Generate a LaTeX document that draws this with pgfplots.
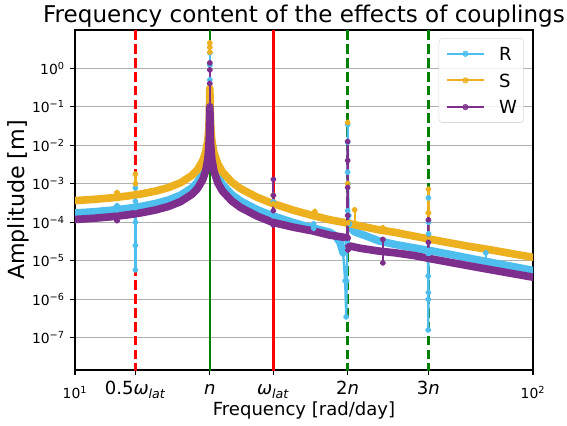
\documentclass[border=0pt]{standalone}
\usepackage{fontspec}
\setmainfont{DejaVu Sans}
\usepackage{pgfplots}
\pgfplotsset{compat=1.18}
\definecolor{cR}{HTML}{4DBEEE}
\definecolor{cS}{HTML}{EDB120}
\definecolor{cW}{HTML}{7E2F8E}
\definecolor{cG}{HTML}{008000}
\definecolor{cRed}{HTML}{FF0000}
\definecolor{gridc}{HTML}{B0B0B0}
\pgfplotsset{
  legend image code/.code={\draw[#1, line width=1.5pt] (0pt,0pt) -- (27.1pt,0pt); \fill[#1] (13.55pt,0pt) circle (2pt);},
  band/.style={line width=5.5pt, line join=round, line cap=round, forget plot},
  spike/.style={line width=1.7pt, line join=round, mark=*, mark size=1.4pt, mark options={solid}, forget plot},
}
\begin{document}
\begin{tikzpicture}
\useasboundingbox (-54pt,-39.6pt) rectangle (354.24pt,266.4pt);
\begin{axis}[name=ax, at={(0,0)}, anchor=south west, scale only axis,
  width=329.76pt, height=244.8pt,
  xmode=log, ymode=log, xmin=10, xmax=100, ymin=1.46e-8, ymax=9.8,
  axis line style={line width=0.8pt},
  tick align=outside, tick pos=left, major tick length=3.5pt,
  tick style={black, line width=0.8pt},
  xminorticks=false, yminorticks=false,
  xtick={10,13.55,19.7,27.1,39.4,59.1,100},
  xticklabels={
    {\fontsize{10}{12}\selectfont\raisebox{-2.9pt}{10\textsuperscript{1}}},
    {0.5\textit{ω}\textsubscript{\textit{lat}}},
    {\textit{n}},
    {\textit{ω}\textsubscript{\textit{lat}}},
    {2\textit{n}},
    {3\textit{n}},
    {\fontsize{10}{12}\selectfont\raisebox{-2.9pt}{10\textsuperscript{2}}}},
  ytick={1e-7,1e-6,1e-5,1e-4,1e-3,1e-2,1e-1,1},
  yticklabels={10\textsuperscript{−7},10\textsuperscript{−6},10\textsuperscript{−5},10\textsuperscript{−4},10\textsuperscript{−3},10\textsuperscript{−2},10\textsuperscript{−1},10\textsuperscript{0}},
  ymajorgrids, major grid style={gridc, line width=0.8pt},
  xticklabel style={anchor=base, yshift=-14.4pt, inner sep=0pt, font=\fontsize{13}{15}\selectfont},
  yticklabel style={anchor=east, inner sep=0pt, xshift=-3.7pt, font=\fontsize{10}{12}\selectfont},
  legend cell align=left,
  legend style={at={(1,1)}, anchor=north east, xshift=-6.5pt, yshift=-5.8pt,
    draw=black!15, rounded corners=2.5pt, fill=white, fill opacity=0.8, text opacity=1,
    inner xsep=4.8pt, inner ysep=3.35pt, row sep=3.7pt,
    font=\fontsize{13}{15}\selectfont,
    nodes={inner xsep=0pt, inner ysep=3pt, text height=9.5pt, text depth=0pt},
    /tikz/every odd column/.append style={column sep=10pt}},
]
% reference lines
\addplot[cRed, line width=1.8pt, dash pattern=on 7pt off 3pt, forget plot] coordinates {(13.55,1e-9) (13.55,100)};
\addplot[cG, line width=1.8pt, forget plot] coordinates {(19.7,1e-9) (19.7,100)};
\addplot[cRed, line width=1.8pt, forget plot] coordinates {(27.1,1e-9) (27.1,100)};
\addplot[cG, line width=1.8pt, dash pattern=on 7pt off 3pt, forget plot] coordinates {(39.4,1e-9) (39.4,100)};
\addplot[cG, line width=1.8pt, dash pattern=on 7pt off 3pt, forget plot] coordinates {(59.1,1e-9) (59.1,100)};

% ---------- R ----------
\addplot[cR, band] coordinates {(10,1.74e-4)(11,1.87e-4)(12,2.05e-4)(13,2.28e-4)(14,2.60e-4)(15,3.07e-4)(16,3.79e-4)(17,5.05e-4)(18,7.80e-4)(18.5,1.09e-3)(19,1.85e-3)(19.3,3.21e-3)(19.5,6.38e-3)(19.6,1.27e-2)(19.65,2.54e-2)(19.7,0.15)(19.75,2.54e-2)(19.8,1.27e-2)(19.9,6.31e-3)(20.1,3.14e-3)(20.5,1.56e-3)(21,9.45e-4)(22,5.21e-4)(23,3.55e-4)(25,2.11e-4)(27,1.47e-4)(30,9.77e-5)(33,7.13e-5)(36,5.51e-5)(37,4.5e-5)(37.9,3.0e-5)(38.5,1.6e-5)};
\addplot[cR, band] coordinates {(39.8,9e-5)(40.5,6e-5)(41,5.5e-5)(43,4.5e-5)(46,3.3e-5)(50,2.65e-5)(55,2.16e-5)(60,1.81e-5)(66,1.46e-5)(72,1.19e-5)(80,9.31e-6)(90,7.13e-6)(100,5.62e-6)};
\addplot[cR, spike] coordinates {(12.35,2.1e-4)(12.35,2.7e-4)};
\addplot[cR, spike] coordinates {(13.55,2.4e-4)(13.55,7.8e-4)(13.55,3.5e-4)(13.55,1e-4)(13.55,2.5e-5)(13.55,5.8e-6)};
\addplot[cR, spike] coordinates {(19.7,0.1)(19.7,0.5)(19.7,1.2)(19.7,2.5)};
\addplot[cR, spike] coordinates {(27.1,1.47e-4)(27.1,3.4e-4)};
\addplot[cR, spike] coordinates {(33.2,7.0e-5)(33.2,9.0e-5)};
\addplot[cR, spike] coordinates {(38.5,1.6e-5)(38.9,3e-6)(39.1,3.5e-7)(39.2,3e-6)(39.3,3e-5)(39.4,2e-4)(39.4,2e-3)(39.4,1.2e-2)(39.4,3.4e-2)(39.45,1e-3)(39.6,1.5e-4)(39.8,9e-5)};
\addplot[cR, spike] coordinates {(58.9,1.85e-5)(59.05,4e-6)(59.05,1e-6)(59.05,1.6e-7)(59.1,1.5e-6)(59.1,1.5e-5)(59.1,1e-4)(59.1,4.3e-4)(59.15,5e-5)(59.25,1.8e-5)};
\addplot[cR, spike] coordinates {(78.9,9.5e-6)(78.9,1.6e-5)};

% ---------- S ----------
\addplot[cS, band] coordinates {(10,3.65e-4)(11,3.93e-4)(12,4.30e-4)(13,4.79e-4)(14,5.47e-4)(15,6.44e-4)(16,7.95e-4)(17,1.06e-3)(18,1.64e-3)(18.5,2.29e-3)(19,3.88e-3)(19.3,6.73e-3)(19.5,1.34e-2)(19.6,2.67e-2)(19.65,5.33e-2)(19.7,0.3)(19.75,5.33e-2)(19.8,2.66e-2)(19.9,1.33e-2)(20.1,6.6e-3)(20.5,3.27e-3)(21,1.99e-3)(22,1.10e-3)(23,7.45e-4)(25,4.43e-4)(27,3.08e-4)(30,2.05e-4)(33,1.50e-4)(36,1.16e-4)(39,9.71e-5)(42,8.0e-5)(46,6.37e-5)(50,5.45e-5)(55,4.36e-5)(60,3.58e-5)(66,2.90e-5)(72,2.40e-5)(80,1.96e-5)(90,1.53e-5)(100,1.23e-5)};
\addplot[cS, spike] coordinates {(12.35,4.15e-4)(12.35,5.9e-4)};
\addplot[cS, spike] coordinates {(13.55,5.1e-4)(13.55,1.78e-3)(13.55,1e-3)(13.55,5.1e-4)};
\addplot[cS, spike] coordinates {(19.7,2.6)(19.7,3.5)(19.7,4.5)};
\addplot[cS, spike] coordinates {(27.1,3.0e-4)(27.1,5e-4)};
\addplot[cS, spike] coordinates {(33.4,1.47e-4)(33.4,1.9e-4)};
\addplot[cS, spike] coordinates {(39.4,9.6e-5)(39.4,1e-3)};
\addplot[cS, spike, only marks] coordinates {(39.4,3.9e-2)};
\addplot[cS, spike] coordinates {(40.8,8.2e-5)(40.8,2.1e-4)};
\addplot[cS, spike] coordinates {(47,6.2e-5)(47,7.2e-5)};
\addplot[cS, spike] coordinates {(59.1,3.6e-5)(59.1,1.75e-4)(59.1,7.2e-4)(59.1,1.75e-4)};

% ---------- W ----------
\addplot[cW, band] coordinates {(10,1.18e-4)(11,1.27e-4)(12,1.39e-4)(13,1.55e-4)(14,1.77e-4)(15,2.09e-4)(16,2.57e-4)(17,3.43e-4)(18,5.31e-4)(18.5,7.42e-4)(19,1.26e-3)(19.3,2.18e-3)(19.5,4.34e-3)(19.6,8.65e-3)(19.65,1.73e-2)(19.7,0.1)(19.75,1.73e-2)(19.8,8.61e-3)(19.9,4.29e-3)(20.1,2.14e-3)(20.5,1.06e-3)(21,6.43e-4)(22,3.55e-4)(23,2.41e-4)(25,1.44e-4)(27,9.97e-5)(30,7.42e-5)(33,5.99e-5)(36,4.63e-5)(38.5,4.11e-5)(39.3,3.9e-5)};
\addplot[cW, band] coordinates {(39.6,2.45e-5)(40,2.39e-5)(42,2.11e-5)(46,1.79e-5)(50,1.61e-5)(55,1.37e-5)(60,1.12e-5)(66,9.07e-6)(72,7.51e-6)(80,5.99e-6)(90,4.67e-6)(100,3.75e-6)};
\addplot[cW, spike] coordinates {(12.35,1.41e-4)(12.35,1.1e-4)};
\addplot[cW, spike] coordinates {(19.7,0.1)(19.7,0.4)(19.7,0.9)(19.7,1.37)};
\addplot[cW, spike] coordinates {(27.1,9.9e-5)(27.1,1.3e-3)(27.1,5e-4)(27.1,2e-4)(27.1,8.5e-5)};
\addplot[cW, spike] coordinates {(39.3,3.9e-5)(39.4,1.25e-2)(39.4,4e-3)(39.4,8e-4)(39.4,1.5e-4)(39.45,1.9e-5)(39.6,2.45e-5)};
\addplot[cW, spike] coordinates {(47,1.75e-5)(47,3.6e-5)(47,8.8e-6)(47,1.75e-5)};
\addplot[cW, spike] coordinates {(59.1,1.12e-5)(59.1,1.15e-4)(59.1,3e-5)(59.15,1.12e-5)};

\addlegendimage{cR}\addlegendentry{R}
\addlegendimage{cS}\addlegendentry{S}
\addlegendimage{cW}\addlegendentry{W}
\end{axis}
\node[anchor=base, font=\fontsize{16.6}{19}\selectfont] at ([yshift=5.6pt]ax.north) {Frequency content of the effects of couplings};
\node[anchor=base, font=\fontsize{13}{15}\selectfont] at ([yshift=-32.4pt]ax.south) {Frequency [rad/day]};
\node[anchor=base, rotate=90, font=\fontsize{16}{19}\selectfont] at ([xshift=-36.7pt]ax.west) {Amplitude [m]};
\end{tikzpicture}
\end{document}
